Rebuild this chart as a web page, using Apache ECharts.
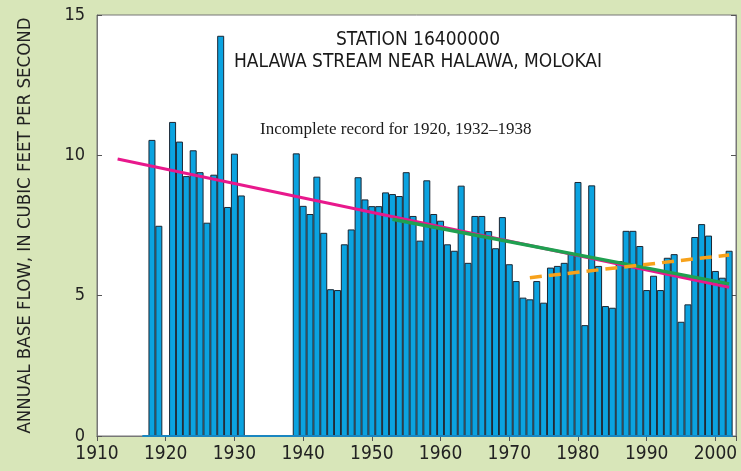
<!DOCTYPE html>
<html>
<head>
<meta charset="utf-8">
<script src="https://cdn.jsdelivr.net/npm/echarts@6/dist/echarts.min.js"></script>
<style>
  html, body { margin: 0; padding: 0; background: #d8e6b9; }
  #chart { width: 741px; height: 471px; }
</style>
</head>
<body>
<div id="chart"></div>
<script>
// annual base flow, cubic feet per second
const years1 = [1918, 1919, 1921, 1922, 1923, 1924, 1925, 1926, 1927, 1928, 1929, 1930, 1931];
const flow1 = [10.55, 7.49, 11.19, 10.49, 9.26, 10.18, 9.40, 7.60, 9.31, 14.26, 8.16, 10.06, 8.57];

const years2 = [1939, 1940, 1941, 1942, 1943, 1944, 1945, 1946, 1947, 1948, 1949,
  1950, 1951, 1952, 1953, 1954, 1955, 1956, 1957, 1958, 1959,
  1960, 1961, 1962, 1963, 1964, 1965, 1966, 1967, 1968, 1969,
  1970, 1971, 1972, 1973, 1974, 1975, 1976, 1977, 1978, 1979,
  1980, 1981, 1982, 1983, 1984, 1985, 1986, 1987, 1988, 1989,
  1990, 1991, 1992, 1993, 1994, 1995, 1996, 1997, 1998, 1999,
  2000, 2001, 2002];
const flow2 = [10.07, 8.20, 7.91, 9.24, 7.24, 5.23, 5.20, 6.83, 7.36, 9.22, 8.43,
  8.19, 8.19, 8.68, 8.62, 8.55, 9.40, 7.84, 6.96, 9.11, 7.91,
  7.67, 6.83, 6.60, 8.92, 6.17, 7.84, 7.84, 7.30, 6.69, 7.80,
  6.12, 5.52, 4.93, 4.87, 5.52, 4.75, 6.00, 6.06, 6.17, 6.51,
  9.05, 3.95, 8.93, 6.06, 4.63, 4.57, 6.23, 7.31, 7.31, 6.77,
  5.20, 5.71, 5.20, 6.35, 6.48, 4.07, 4.69, 7.09, 7.55, 7.14,
  5.88, 5.64, 6.60];

// trend lines: [start year, end year], [start value, end value]
const trendAllYears = [1913, 2002];
const trendAllFlow = [9.87, 5.30];
const trend1953Years = [1953, 2002];
const trend1953Flow = [7.72, 5.42];
const trend1973Years = [1973, 2002];
const trend1973Flow = [5.64, 6.45];

const yTicks = [0, 5, 10, 15];

const condensed = "'Liberation Sans Narrow', 'DejaVu Sans Condensed', 'Arial Narrow', sans-serif";

function pairs(xs, ys) {
  return xs.map(function(x, i) { return [x, ys[i]]; });
}

const chart = echarts.init(document.getElementById('chart'));

const barData = pairs(years1, flow1).concat(pairs(years2, flow2));

const option = {
  backgroundColor: '#d8e6b9',
  animation: false,
  grid: { left: 97, top: 15, right: 5, bottom: 35, show: true, backgroundColor: '#ffffff', borderColor: '#777', borderWidth: 1 },
  xAxis: [
    {
      type: 'value', min: 1910, max: 2003, interval: 10,
      axisLine: { lineStyle: { color: '#777' } },
      axisTick: { show: false },
      splitLine: { show: false },
      axisLabel: {
        showMaxLabel: false, margin: 9, color: '#222', fontFamily: condensed, fontSize: 19,
        formatter: function(v) { return String(v); }
      }
    },
    {
      type: 'value', position: 'top', min: 1910, max: 2003, interval: 10,
      axisLine: { show: true, lineStyle: { color: '#777' } },
      axisTick: { show: true, inside: true, length: 5, lineStyle: { color: '#555' } },
      splitLine: { show: false },
      axisLabel: { show: false }
    }
  ],
  yAxis: [
    {
      type: 'value', min: yTicks[0], max: yTicks[yTicks.length - 1], interval: 5,
      name: 'ANNUAL BASE FLOW, IN CUBIC FEET PER SECOND',
      nameLocation: 'middle', nameGap: 62,
      nameTextStyle: { color: '#222', fontFamily: condensed, fontSize: 18.5 },
      axisLine: { show: true, lineStyle: { color: '#777' } },
      axisTick: { show: true, inside: true, length: 5, lineStyle: { color: '#555' } },
      splitLine: { show: false },
      axisLabel: { margin: 12, color: '#222', fontFamily: condensed, fontSize: 18 }
    },
    {
      type: 'value', position: 'right', min: 0, max: 15, interval: 5,
      axisLine: { show: true, lineStyle: { color: '#777' } },
      axisTick: { show: true, inside: true, length: 5, lineStyle: { color: '#555' } },
      splitLine: { show: false },
      axisLabel: { show: false }
    }
  ],
  series: [
    {
      type: 'bar',
      data: barData,
      barWidth: 7,
      itemStyle: { color: '#0ba3e0', borderColor: '#1b2633', borderWidth: 1 },
      markLine: {
        silent: true, symbol: 'none', label: { show: false },
        lineStyle: { color: '#1a86c0', type: 'solid', width: 2 },
        data: [[{ coord: [1916.6, 0] }, { coord: [2002.5, 0] }]]
      },
      z: 2
    },
    {
      type: 'line', data: pairs(trendAllYears, trendAllFlow),
      symbol: 'none', lineStyle: { color: '#e8188c', width: 3 }, z: 3
    },
    {
      type: 'line', data: pairs(trend1953Years, trend1953Flow),
      symbol: 'none', lineStyle: { color: '#1fa050', width: 3.5 }, z: 4
    },
    {
      type: 'line', data: pairs(trend1973Years, trend1973Flow),
      symbol: 'none', lineStyle: { color: '#f7a21b', width: 3.5, type: [12, 7] }, z: 5
    }
  ],
  graphic: [
    {
      type: 'text', x: 418, y: 40,
      style: { text: 'STATION 16400000', fontFamily: condensed, fontSize: 19, fill: '#1a1a1a', align: 'center', verticalAlign: 'middle' }
    },
    {
      type: 'text', x: 418, y: 62,
      style: { text: 'HALAWA STREAM NEAR HALAWA, MOLOKAI', fontFamily: condensed, fontSize: 19, fill: '#1a1a1a', align: 'center', verticalAlign: 'middle' }
    },
    {
      type: 'text', x: 260, y: 130,
      style: { text: 'Incomplete record for 1920, 1932\u20131938', fontFamily: "'Liberation Serif', 'DejaVu Serif', serif", fontSize: 17, fill: '#1a1a1a', align: 'left', verticalAlign: 'middle' }
    }
  ]
};

chart.setOption(option);

window.addEventListener('resize', function() {
  chart.resize();
});
</script>
</body>
</html>
